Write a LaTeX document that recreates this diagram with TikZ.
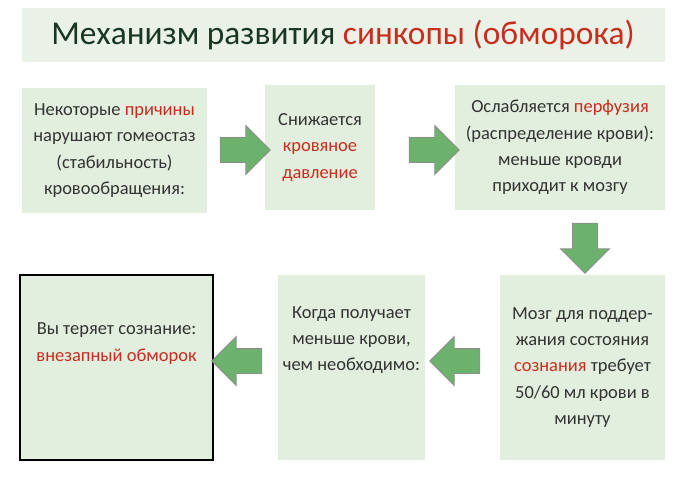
\documentclass[tikz,border=0pt]{standalone}
\usepackage{fontspec}
\setmainfont{Carlito}
\usetikzlibrary{shapes.arrows}
\definecolor{box_green}{RGB}{226, 238, 222}
\definecolor{band_green}{RGB}{234, 242, 232}
\definecolor{arr_green}{RGB}{108, 178, 108}
\definecolor{txt_red}{RGB}{200, 45, 30}
\definecolor{txt_dark}{RGB}{25, 55, 35}
\tikzstyle{bx}=[rectangle,fill=box_green,align=center,font=\fontsize{10.5}{15}\selectfont,
  text=black!80,inner sep=2pt]
\tikzstyle{ar}=[single arrow,fill=arr_green,draw=black!45,line width=0.5pt,
  minimum height=1.0cm,minimum width=0pt,single arrow head extend=0.24cm,inner sep=0.24cm]
\newcommand{\rd}[1]{\textcolor{txt_red}{#1}}

\begin{document}
\begin{tikzpicture}[x=0.02cm, y=-0.02cm]
            \useasboundingbox (0,0) rectangle (690,478);
            \fill [band_green] (22,8) rectangle (665,62);
            \node (title) at (343,35) {\fontsize{19}{22}\selectfont\color{txt_dark}Механизм развития \rd{синкопы (обморока)}};
            \node [style=bx, minimum width=3.7cm, minimum height=2.5cm] (1) at (114.5,150.5) {Некоторые \rd{причины}\\нарушают гомеостаз\\(стабильность)\\кровообращения:};
            \node [style=bx, minimum width=2.2cm, minimum height=2.5cm] (2) at (320,147.5) {Снижается\\\rd{кровяное}\\\rd{давление}};
            \node [style=bx, minimum width=4.2cm, minimum height=2.5cm] (3) at (560,147.5) {Ослабляется \rd{перфузия}\\(распределение крови):\\меньше кровди\\приходит к мозгу};
            \node [style=bx, minimum width=3.3cm, minimum height=3.7cm] (4) at (582.5,367.5) {Мозг для поддер-\\жания состояния\\\rd{сознания} требует\\50/60 мл крови в\\минуту};
            \node [style=bx, minimum width=2.94cm, minimum height=3.7cm] (5) at (351.5,367.5) {Когда получает\\меньше крови,\\чем необходимо:\\[18pt]};
            \node [style=bx, draw=black, line width=0.8pt, minimum width=3.86cm, minimum height=3.7cm] (6) at (116.5,367.5) {Вы теряет сознание:\\\rd{внезапный обморок}\\[14pt]};
            \node [style=ar] (a12) at (239,150) {};
            \node [style=ar] (a23) at (428,150) {};
            \node [style=ar, shape border rotate=270] (a34) at (585,242) {};
            \node [style=ar, shape border rotate=180] (a45) at (461,361) {};
            \node [style=ar, shape border rotate=180] (a56) at (243,361) {};
    \end{tikzpicture}
\end{document}
